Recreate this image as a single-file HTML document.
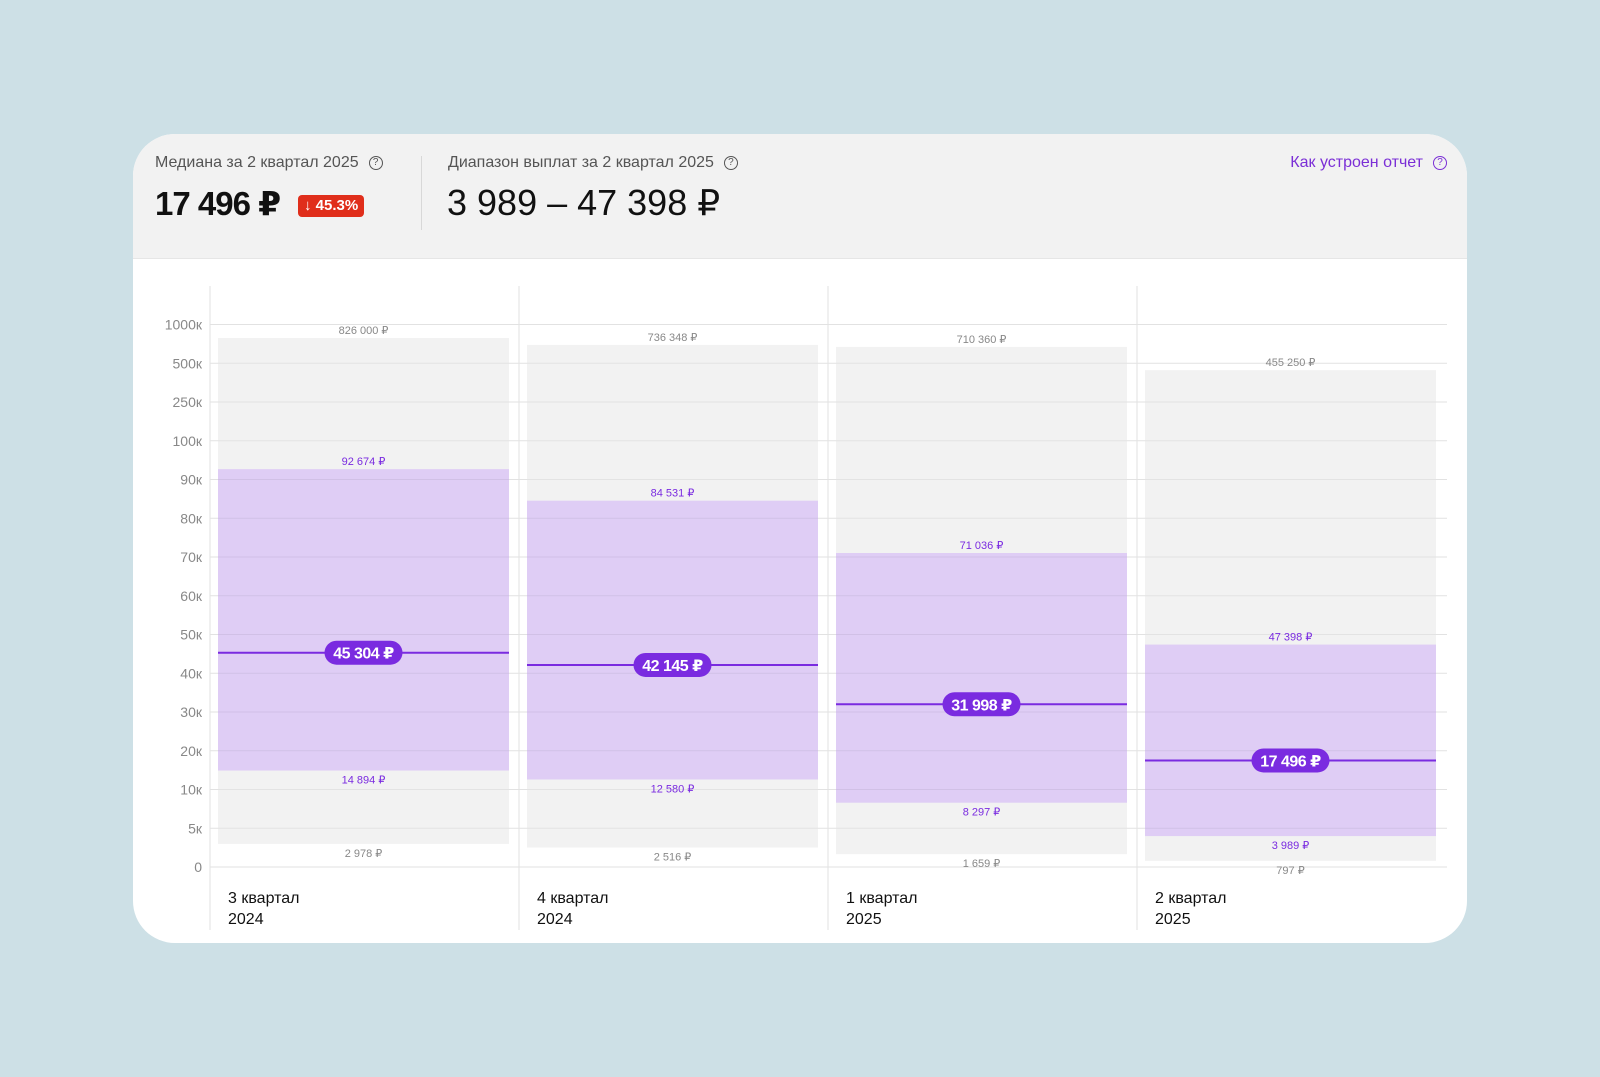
<!DOCTYPE html>
<html><head><meta charset="utf-8">
<style>
body{margin:0;width:1600px;height:1077px;background:#cde0e6;font-family:"Liberation Sans","DejaVu Sans",sans-serif;position:relative;overflow:hidden}
.card{position:absolute;left:133px;top:134px;width:1334px;height:809px;background:#fff;border-radius:42px;overflow:hidden}
.head{position:absolute;left:0;top:0;width:100%;height:124px;background:#f2f2f2;border-bottom:1px solid #e6e6e6}
.t{position:absolute;white-space:nowrap}
.q{display:inline-block;width:12px;height:12px;border:1.5px solid #555;border-radius:50%;font-size:10px;line-height:12px;text-align:center;vertical-align:middle;margin-left:10px;color:#555}
svg{position:absolute;left:0;top:0}
</style></head><body>
<div class="card">
 <div class="head">
  <div class="t" style="left:22px;top:20px;font-size:16px;color:#555">Медиана за 2 квартал 2025<span class="q">?</span></div>
  <div class="t" style="left:22px;top:50px;font-size:33px;font-weight:bold;color:#111;letter-spacing:-1px">17 496 ₽</div>
  <div class="t" style="left:165px;top:61px;height:22px;padding:0 6px;background:#e02e1b;color:#fff;border-radius:4px;font-size:15px;font-weight:bold;line-height:22px">↓ 45.3%</div>
  <div class="t" style="left:288px;top:22px;width:1px;height:74px;background:#d8d8d8"></div>
  <div class="t" style="left:315px;top:20px;font-size:16px;color:#555">Диапазон выплат за 2 квартал 2025<span class="q">?</span></div>
  <div class="t" style="left:314px;top:48px;font-size:36px;color:#111">3 989 – 47 398 ₽</div>
  <div class="t" style="right:20px;top:20px;font-size:16px;color:#7b2fd6">Как устроен отчет<span class="q" style="border-color:#7b2fd6;color:#7b2fd6">?</span></div>
 </div>
</div>
<svg id="chart" width="1600" height="1077"></svg>
<script>
const categories=["3 квартал|2024","4 квартал|2024","1 квартал|2025","2 квартал|2025"];
const maxVals=[826000,736348,710360,455250];
const q3Vals=[92674,84531,71036,47398];
const medianVals=[45304,42145,31998,17496];
const q1Vals=[14894,12580,8297,3989];
const minVals=[2978,2516,1659,797];
const tickValues=[0,5000,10000,20000,30000,40000,50000,60000,70000,80000,90000,100000,250000,500000,1000000];
const tickLabels=["0","5к","10к","20к","30к","40к","50к","60к","70к","80к","90к","100к","250к","500к","1000к"];

const NS="http://www.w3.org/2000/svg",svg=document.getElementById('chart');
const Y0=867,STEP=38.75,PL=210,PR=1447,COLW=309;
function y(v){for(let i=0;i<tickValues.length-1;i++){if(v<=tickValues[i+1]){const f=(v-tickValues[i])/(tickValues[i+1]-tickValues[i]);return Y0-(i+f)*STEP;}}return Y0-(tickValues.length-1)*STEP;}
function colX(i){return PL+i*COLW;}
function mk(tag,attrs,parent){const e=document.createElementNS(NS,tag);for(const k in attrs)e.setAttribute(k,attrs[k]);(parent||svg).appendChild(e);return e;}
function fmt(v){return String(v).replace(/\B(?=(\d{3})+(?!\d))/g," ")+" ₽";}
tickValues.forEach((v,i)=>{
 const l=mk('line',{x1:PL,x2:PR,y1:y(v),y2:y(v),stroke:'#e2e2e2','stroke-width':1});
 
 
 const t=mk('text',{x:202,y:y(v)+5,'text-anchor':'end','font-size':14,fill:'#888'});
 t.textContent=tickLabels[i];
 
 
});
for(let i=0;i<=categories.length;i++){
 if(i===categories.length)break;
 const l=mk('line',{x1:colX(i),x2:colX(i),y1:286,y2:930,stroke:'#e2e2e2','stroke-width':1});
 
 
}
categories.forEach((c,i)=>{
 const x0=colX(i)+8,w=291,cx=x0+w/2;
 const g=mk('g',{});
 
 
 const r1=mk('rect',{x:x0,y:y(maxVals[i]),width:w,height:y(minVals[i])-y(maxVals[i]),fill:'#f2f2f2'},g);
 
 
 const r2=mk('rect',{x:x0,y:y(q3Vals[i]),width:w,height:y(q1Vals[i])-y(q3Vals[i]),fill:'#dfcdf5'},g);
 
 
 // gridlines over bars faintly
 tickValues.forEach(v=>{if(y(v)>y(maxVals[i])&&y(v)<y(minVals[i]))mk('line',{x1:x0,x2:x0+w,y1:y(v),y2:y(v),stroke:'#000','stroke-opacity':0.06},g);});
 const ml=mk('line',{x1:x0,x2:x0+w,y1:y(medianVals[i]),y2:y(medianVals[i]),stroke:'#7a2be0','stroke-width':2},g);
 
 
 const lab=(v,yy,col,name)=>{const t=mk('text',{x:cx,y:yy,'text-anchor':'middle','font-size':11,fill:col},g);t.textContent=fmt(v);};
 lab(maxVals[i],y(maxVals[i])-4,'#888','max-label');
 lab(q3Vals[i],y(q3Vals[i])-4,'#7a2be0','q3-label');
 lab(q1Vals[i],y(q1Vals[i])+13,'#7a2be0','q1-label');
 lab(minVals[i],y(minVals[i])+13,'#888','min-label');
 const pw=78;
 const p=mk('rect',{x:cx-pw/2,y:y(medianVals[i])-12,width:pw,height:24,rx:12,fill:'#7a2be0'},g);
 
 
 const pt=mk('text',{x:cx,y:y(medianVals[i])+6,'text-anchor':'middle','font-size':16,'font-weight':'bold',fill:'#fff','letter-spacing':'-0.5'},g);
 pt.textContent=fmt(medianVals[i]);
 
 
 const parts=c.split('|');
 parts.forEach((s,k)=>{const t=mk('text',{x:colX(i)+18,y:903+k*21,'font-size':16,fill:'#111'},g);t.textContent=s;});
});
</script>
</body></html>
